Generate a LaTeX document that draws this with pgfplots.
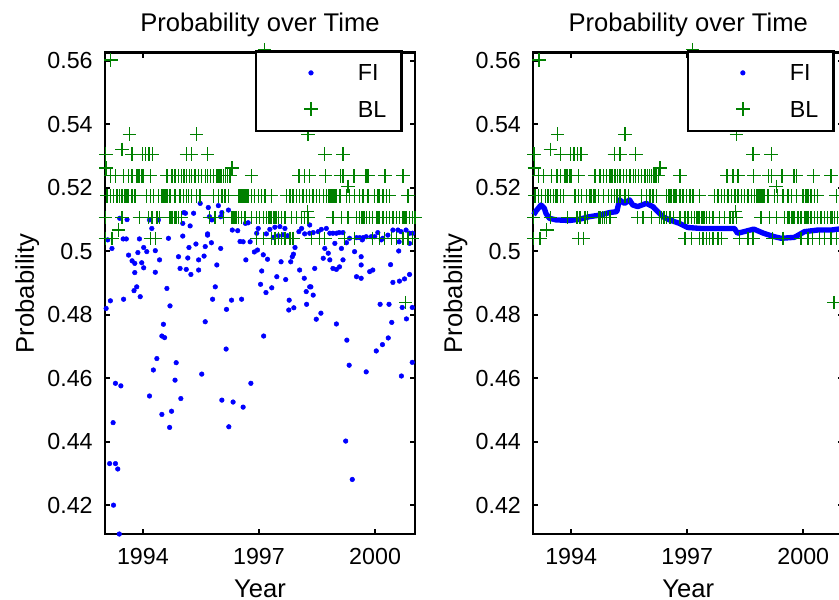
\documentclass[border=0pt]{standalone}
\usepackage{fontspec}
\setmainfont{Liberation Sans}
\usepackage{pgfplots}
\usepackage{pgfplotstable}
\pgfplotsset{compat=1.18}
\definecolor{mblue}{rgb}{0,0,1}
\definecolor{mgreen}{rgb}{0,0.5,0}

\pgfplotstableread{
x y
1993.17 0.5603
1997.14 0.5636
1993.65 0.5369
1995.39 0.5369
1998.27 0.5369
1993.04 0.5306
1993.46 0.5321
1993.72 0.5306
1993.99 0.5306
1994.07 0.5306
1994.16 0.5306
1994.25 0.5306
1995.12 0.5306
1995.26 0.5306
1995.67 0.5306
1998.70 0.5306
1999.17 0.5306
1993.05 0.5262
1996.30 0.5262
1993.16 0.5238
1993.29 0.5238
1993.50 0.5238
1993.63 0.5238
1993.72 0.5238
1993.83 0.5238
1993.87 0.5238
1993.91 0.5238
1993.96 0.5238
1994.00 0.5238
1994.19 0.5238
1994.62 0.5238
1994.75 0.5238
1994.83 0.5238
1994.92 0.5238
1995.00 0.5238
1995.06 0.5238
1995.13 0.5238
1995.20 0.5238
1995.26 0.5238
1995.35 0.5238
1995.43 0.5238
1995.52 0.5238
1995.61 0.5238
1995.67 0.5238
1995.74 0.5238
1995.82 0.5238
1995.91 0.5238
1995.97 0.5238
1996.02 0.5238
1996.08 0.5238
1996.14 0.5238
1996.19 0.5238
1996.25 0.5238
1996.81 0.5238
1998.03 0.5238
1998.18 0.5238
1998.31 0.5238
1998.72 0.5238
1999.10 0.5238
1999.17 0.5238
1999.45 0.5238
1999.76 0.5238
1999.82 0.5238
2000.26 0.5238
2000.72 0.5238
1999.30 0.5205
1993.07 0.5175
1993.16 0.5175
1993.24 0.5175
1993.33 0.5175
1993.40 0.5175
1993.46 0.5175
1993.54 0.5175
1993.59 0.5175
1993.63 0.5175
1993.72 0.5175
1993.80 0.5175
1994.10 0.5175
1994.19 0.5175
1994.27 0.5175
1994.40 0.5175
1994.49 0.5175
1994.53 0.5175
1994.57 0.5175
1994.62 0.5175
1994.70 0.5175
1994.83 0.5175
1994.96 0.5175
1995.05 0.5175
1995.12 0.5175
1995.18 0.5175
1995.26 0.5175
1995.39 0.5175
1995.48 0.5175
1995.82 0.5175
1995.95 0.5175
1996.04 0.5175
1996.12 0.5175
1996.21 0.5175
1996.47 0.5175
1996.51 0.5175
1996.55 0.5175
1996.59 0.5175
1996.64 0.5175
1996.68 0.5175
1996.72 0.5175
1996.81 0.5175
1996.89 0.5175
1996.98 0.5175
1997.07 0.5175
1997.15 0.5175
1997.32 0.5175
1997.71 0.5175
1997.80 0.5175
1997.88 0.5175
1997.97 0.5175
1998.05 0.5175
1998.14 0.5175
1998.23 0.5175
1998.31 0.5175
1998.40 0.5175
1998.48 0.5175
1998.57 0.5175
1998.66 0.5175
1998.74 0.5175
1998.79 0.5175
1998.83 0.5175
1998.87 0.5175
1998.91 0.5175
1998.96 0.5175
1999.00 0.5175
1999.09 0.5175
1999.26 0.5175
1999.34 0.5175
1999.47 0.5175
1999.60 0.5175
1999.69 0.5175
1999.82 0.5175
1999.99 0.5175
2000.07 0.5175
2000.12 0.5175
2000.20 0.5175
2000.29 0.5175
2000.37 0.5175
2000.85 0.5175
1998.25 0.5125
1993.03 0.5106
1993.46 0.5106
1993.91 0.5106
1994.15 0.5106
1994.23 0.5106
1994.36 0.5106
1994.43 0.5106
1994.70 0.5106
1994.75 0.5106
1994.81 0.5106
1994.86 0.5106
1994.92 0.5106
1995.00 0.5106
1995.72 0.5106
1995.86 0.5106
1996.08 0.5106
1996.29 0.5106
1996.33 0.5106
1996.38 0.5106
1996.42 0.5106
1996.47 0.5106
1996.55 0.5106
1996.64 0.5106
1996.81 0.5106
1996.94 0.5106
1997.02 0.5106
1997.11 0.5106
1997.19 0.5106
1997.24 0.5106
1997.28 0.5106
1997.32 0.5106
1997.37 0.5106
1997.41 0.5106
1997.45 0.5106
1997.50 0.5106
1997.58 0.5106
1997.67 0.5106
1997.84 0.5106
1997.97 0.5106
1998.10 0.5106
1998.18 0.5106
1998.27 0.5106
1998.91 0.5106
1999.13 0.5106
1999.30 0.5106
1999.52 0.5106
1999.60 0.5106
1999.65 0.5106
1999.69 0.5106
1999.73 0.5106
1999.77 0.5106
1999.86 0.5106
1999.94 0.5106
2000.03 0.5106
2000.07 0.5106
2000.12 0.5106
2000.20 0.5106
2000.29 0.5106
2000.37 0.5106
2000.46 0.5106
2000.55 0.5106
2000.63 0.5106
2000.72 0.5106
2000.76 0.5106
2000.80 0.5106
2000.89 0.5106
2000.97 0.5106
2001.03 0.5106
1993.37 0.5067
1993.03 0.5041
1993.20 0.5041
1994.19 0.5041
1994.32 0.5041
1996.94 0.5041
1997.11 0.5041
1997.32 0.5041
1997.41 0.5041
1997.50 0.5041
1997.58 0.5041
1997.67 0.5041
1997.80 0.5041
1997.88 0.5041
1998.35 0.5041
1998.57 0.5041
1998.70 0.5041
1999.21 0.5041
1999.47 0.5041
1999.94 0.5041
2000.12 0.5041
2000.24 0.5041
2000.42 0.5041
2000.55 0.5041
2000.72 0.5041
2000.85 0.5041
2000.97 0.5041
2000.79 0.4838
}\BLdata

\pgfplotstableread{
x y
1993.09 0.5036
1993.20 0.5009
1993.05 0.4820
1993.16 0.4844
1993.29 0.4584
1993.43 0.4576
1993.23 0.4460
1993.14 0.4331
1993.29 0.4331
1993.35 0.4314
1993.24 0.4200
1993.39 0.4109
1993.40 0.5104
1993.59 0.5100
1993.49 0.5039
1993.57 0.5039
1993.63 0.4988
1993.72 0.4970
1993.79 0.4962
1993.87 0.4996
1993.91 0.5039
1993.97 0.4964
1994.02 0.5012
1994.10 0.4999
1994.02 0.4948
1993.79 0.4933
1993.84 0.4888
1993.77 0.4876
1993.93 0.4857
1993.50 0.4849
1994.17 0.5099
1994.23 0.5072
1994.32 0.5002
1994.43 0.4973
1994.32 0.4934
1994.62 0.4883
1994.70 0.4828
1994.53 0.4770
1994.49 0.4733
1994.56 0.4728
1994.36 0.4662
1994.27 0.4626
1994.86 0.4649
1994.83 0.4594
1994.98 0.4536
1994.17 0.4544
1994.49 0.4486
1994.74 0.4496
1994.69 0.4445
1994.40 0.5099
1994.66 0.5041
1994.92 0.4983
1994.96 0.4946
1995.12 0.4943
1995.24 0.4927
1995.44 0.4941
1995.44 0.4973
1995.16 0.4979
1995.19 0.5012
1995.37 0.5023
1995.03 0.5048
1995.22 0.5080
1995.31 0.5120
1995.10 0.5120
1995.06 0.5122
1995.61 0.4778
1995.52 0.4613
1995.58 0.4985
1995.67 0.5055
1995.72 0.5109
1995.48 0.5151
1995.03 0.5088
1995.69 0.5138
1995.95 0.5144
1996.21 0.5130
1995.78 0.5099
1996.01 0.5109
1996.04 0.5122
1995.67 0.5051
1995.77 0.5027
1996.01 0.5009
1995.91 0.4957
1995.61 0.5015
1995.87 0.4888
1995.80 0.4849
1996.29 0.4846
1996.16 0.4817
1996.55 0.4849
1996.15 0.4692
1996.04 0.4531
1996.33 0.4525
1996.59 0.4509
1996.22 0.4447
1996.79 0.4584
1997.12 0.4733
1996.31 0.5067
1996.45 0.5065
1996.51 0.5031
1996.59 0.5030
1996.65 0.5088
1996.72 0.5090
1996.77 0.5030
1996.88 0.4998
1996.96 0.5004
1996.94 0.5057
1996.98 0.5072
1996.66 0.4973
1997.11 0.4989
1997.22 0.4975
1997.07 0.4938
1997.04 0.4896
1997.18 0.4870
1997.33 0.4885
1997.46 0.4920
1997.57 0.4967
1997.69 0.4911
1997.82 0.4967
1997.86 0.4983
1997.19 0.5055
1997.28 0.5069
1997.41 0.5076
1997.54 0.5078
1997.67 0.5072
1997.37 0.5044
1997.50 0.5049
1997.62 0.5052
1997.74 0.5049
1997.93 0.5012
1997.89 0.4991
1998.03 0.5062
1998.10 0.5072
1998.18 0.5055
1998.31 0.5057
1998.40 0.5059
1997.78 0.4846
1997.77 0.4815
1997.90 0.4822
1998.05 0.4941
1998.17 0.4915
1998.34 0.4888
1998.40 0.4862
1998.23 0.4833
1998.22 0.4873
1998.31 0.5083
1998.53 0.5062
1998.61 0.5069
1998.74 0.5072
1998.83 0.5057
1998.91 0.5057
1999.00 0.5057
1999.07 0.5059
1999.17 0.5059
1999.26 0.5027
1999.34 0.5041
1999.52 0.5043
1999.60 0.5043
1999.69 0.5043
1999.77 0.5046
1999.90 0.5046
1999.99 0.5046
2000.07 0.5059
2000.16 0.5036
2000.20 0.5041
2000.33 0.5051
2000.46 0.5067
2000.59 0.5067
2000.67 0.5062
2000.80 0.5067
2000.89 0.5057
2000.97 0.5057
1999.47 0.4999
1999.64 0.4983
1999.67 0.5036
1998.96 0.5025
1998.70 0.5009
1998.79 0.4994
1998.83 0.4973
1998.91 0.4946
1999.00 0.4943
1999.08 0.4951
1999.17 0.4973
1999.13 0.5009
1998.66 0.4978
1998.44 0.4946
1998.31 0.4888
1999.52 0.4920
1999.64 0.4915
1999.86 0.4936
1999.94 0.4941
1999.64 0.4957
2000.62 0.5030
2000.89 0.5025
1998.48 0.4786
1998.60 0.4805
1999.00 0.4771
1999.27 0.4720
1999.33 0.4641
1999.77 0.4620
1999.24 0.4402
1999.41 0.4281
2000.03 0.4686
2000.19 0.4706
2000.34 0.4727
2000.13 0.4833
2000.36 0.4833
2000.43 0.4776
2000.70 0.4823
2000.81 0.4787
2000.96 0.4823
2000.68 0.4607
2000.96 0.4650
2000.46 0.4902
2000.63 0.4906
2000.76 0.4913
2000.89 0.4927
2000.40 0.4958
2000.61 0.5001
}\FIleft

\pgfplotstableread{
x y
1993.03 0.5115
1993.10 0.5128
1993.22 0.5146
1993.31 0.5135
1993.35 0.5119
1993.44 0.5104
1993.61 0.5099
1993.96 0.5097
1994.21 0.5101
1994.47 0.5109
1994.73 0.5114
1994.99 0.5122
1995.18 0.5125
1995.25 0.5162
1995.38 0.5151
1995.51 0.5162
1995.59 0.5146
1995.72 0.5141
1995.94 0.5151
1996.11 0.5141
1996.24 0.5125
1996.37 0.5109
1996.54 0.5099
1996.80 0.5088
1997.01 0.5075
1997.36 0.5072
1998.22 0.5072
1998.30 0.5057
1998.47 0.5062
1998.72 0.5070
1998.97 0.5057
1999.25 0.5046
1999.43 0.5041
1999.77 0.5044
2000.03 0.5062
2000.37 0.5067
2000.72 0.5067
2001.03 0.5072
}\FIright

\pgfplotsset{
  mlstyle/.style={
    width=133.3pt, height=207pt, scale only axis,
    xmin=1993.02, xmax=2001.03, ymin=0.4109, ymax=0.5626,
    xtick={1994,1997,2000}, xticklabels={1994,1997,2000},
    ytick={0.42,0.44,0.46,0.48,0.50,0.52,0.54,0.56},
    yticklabels={0.42,0.44,0.46,0.48,0.5,0.52,0.54,0.56},
    tick align=inside, major tick length=2.2pt,
    axis line style={line width=1.1pt},
    every tick/.style={black, line width=0.8pt},
    clip=false,
    title={Probability over Time}, xlabel={Year}, ylabel={Probability},
    every axis title/.style={at={(0.5,1)}, anchor=base, yshift=9.3pt, font=\fontsize{11pt}{13pt}\selectfont},
    every axis x label/.style={at={(0.5,0)}, anchor=base, yshift=-27.1pt, font=\fontsize{11pt}{13pt}\selectfont},
    ylabel style={font=\fontsize{11pt}{13pt}\selectfont},
    yticklabel style={anchor=east, inner sep=0pt, xshift=-5.1pt, font=\fontsize{10pt}{12pt}\selectfont},
    xticklabel style={anchor=north, inner sep=0pt, yshift=-5.8pt, font=\fontsize{10pt}{12pt}\selectfont},
    legend cell align=left,
    legend image code/.code={\path[draw=none,fill=none] (0pt,-6pt) rectangle (40pt,6pt); \draw[##1] plot coordinates {(23.6pt,0pt)};},
    legend style={anchor=north east, draw=black, line width=1.1pt, fill=white,
      inner xsep=0pt, inner ysep=3.3pt, row sep=3.6pt, column sep=3.8pt,
      font=\fontsize{10pt}{12pt}\selectfont,
      nodes={inner sep=0pt, text depth=0pt, text width=18.8pt, align=left, anchor=west}},
  },
  fistyle/.style={only marks, mark=*, mark size=1.0pt, color=mblue, mark options={line width=0.2pt, draw=mblue, fill=mblue}},
  blstyle/.style={only marks, mark=+, mark size=2.9pt, color=mgreen, line width=0.6pt},
}

\begin{document}
\begin{tikzpicture}
\useasboundingbox (0,0) rectangle (360.8pt,257.6pt);
\begin{axis}[mlstyle, at={(45.15pt,27.95pt)}, anchor=south west,
  legend style={at={(0.9613,1.0056)}}]
\addplot[fistyle] table[x=x,y=y] {\FIleft};
\addplot[blstyle] table[x=x,y=y] {\BLdata};
\legend{FI,BL}
\end{axis}
\begin{axis}[mlstyle, at={(229.3pt,27.95pt)}, anchor=south west,
  legend style={at={(0.973,1.0056)}}]
\addplot[color=mblue, line width=2.3pt, line join=round, forget plot] table[x=x,y=y] {\FIright};
\addlegendimage{fistyle}
\addplot[blstyle] table[x=x,y=y] {\BLdata};
\legend{FI,BL}
\end{axis}
\end{tikzpicture}
\end{document}
